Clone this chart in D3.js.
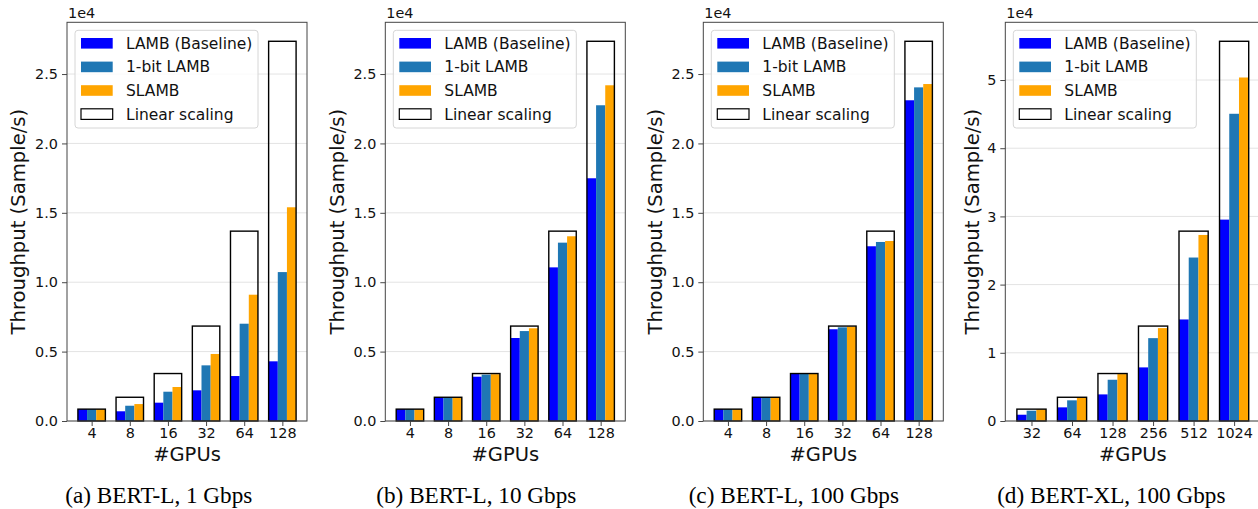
<!DOCTYPE html>
<html>
<head>
<meta charset="utf-8">
<script src="https://cdn.jsdelivr.net/npm/d3@7"></script>
<style>
  body { margin: 0; background: #fff; }
  svg { display: block; font-family: "DejaVu Sans", sans-serif; }
</style>
</head>
<body>
<script>
// chart data (samples/s)
var gpusL  = ["4", "8", "16", "32", "64", "128"];
var gpusXL = ["32", "64", "128", "256", "512", "1024"];

var linearL  = [855, 1710, 3420, 6840, 13680, 27360];
var linearXL = [1740, 3480, 6960, 13920, 27840, 55680];

// (a) BERT-L, 1 Gbps
var lambA   = [855, 700, 1320, 2210, 3240, 4300];
var oneBitA = [855, 1100, 2110, 4010, 7010, 10730];
var slambA  = [855, 1220, 2450, 4830, 9100, 15400];
// (b) BERT-L, 10 Gbps
var lambB   = [855, 1710, 3190, 5980, 11070, 17490];
var oneBitB = [855, 1710, 3340, 6480, 12850, 22750];
var slambB  = [855, 1710, 3370, 6680, 13310, 24190];
// (c) BERT-L, 100 Gbps
var lambC   = [855, 1710, 3400, 6610, 12590, 23110];
var oneBitC = [855, 1710, 3400, 6750, 12900, 24040];
var slambC  = [855, 1710, 3410, 6800, 12970, 24280];
// (d) BERT-XL, 100 Gbps
var lambD   = [920, 2000, 3900, 7860, 14890, 29530];
var oneBitD = [1510, 3030, 6050, 12150, 23970, 45050];
var slambD  = [1710, 3470, 6880, 13620, 27280, 50370];

var seriesNames  = ["LAMB (Baseline)", "1-bit LAMB", "SLAMB"];
var seriesColors = ["#0000ff", "#1f77b4", "#ffa500"];
var linearName   = "Linear scaling";

var captions = ["(a) BERT-L, 1 Gbps", "(b) BERT-L, 10 Gbps", "(c) BERT-L, 100 Gbps", "(d) BERT-XL, 100 Gbps"];

var panels = [
  {cats: gpusL,  linear: linearL,  series: [lambA, oneBitA, slambA], yTicks: [0, 5000, 10000, 15000, 20000, 25000], fmt: 1, left: 67,    width: 240, ylabOff: 48.7},
  {cats: gpusL,  linear: linearL,  series: [lambB, oneBitB, slambB], yTicks: [0, 5000, 10000, 15000, 20000, 25000], fmt: 1, left: 385.3, width: 240, ylabOff: 48.7},
  {cats: gpusL,  linear: linearL,  series: [lambC, oneBitC, slambC], yTicks: [0, 5000, 10000, 15000, 20000, 25000], fmt: 1, left: 703.3, width: 240, ylabOff: 48.5},
  {cats: gpusXL, linear: linearXL, series: [lambD, oneBitD, slambD], yTicks: [0, 10000, 20000, 30000, 40000, 50000], fmt: 0, left: 1005.3, width: 255, ylabOff: 33.3}
];

var W = 1258, H = 509;
var plotTop = 22.3, plotBottom = 421;
var barW = 0.24;

var svg = d3.select("body").append("svg")
    .attr("width", W)
    .attr("height", H);

panels.forEach(function(p, pi) {
  var g = svg.append("g");
  var n = p.cats.length;

  // matplotlib-like x margins around the bar extent
  var lo = -1.5 * barW, hi = (n - 1) + 1.5 * barW;
  var pad = (hi - lo) * 0.05;
  var x = d3.scaleLinear().domain([lo - pad, hi + pad]).range([p.left, p.left + p.width]);
  var y = d3.scaleLinear().domain([0, 1.05 * d3.max(p.linear)]).range([plotBottom, plotTop]);

  // grid
  g.append("g").selectAll("line")
    .data(p.yTicks)
    .enter().append("line")
      .attr("x1", p.left).attr("x2", p.left + p.width)
      .attr("y1", d => y(d)).attr("y2", d => y(d))
      .attr("stroke", "#e3e3e3")
      .attr("stroke-width", 1);

  // coloured bars
  p.series.forEach(function(vals, k) {
    g.append("g").selectAll("rect")
      .data(vals)
      .enter().append("rect")
        .attr("x", (d, i) => x(i + (k - 1) * barW - barW / 2))
        .attr("width", x(barW) - x(0))
        .attr("y", d => y(d))
        .attr("height", d => plotBottom - y(d))
        .attr("fill", seriesColors[k]);
  });

  // linear scaling outline
  g.append("g").selectAll("rect")
    .data(p.linear)
    .enter().append("rect")
      .attr("x", (d, i) => x(i - 1.5 * barW))
      .attr("width", x(3 * barW) - x(0))
      .attr("y", d => y(d))
      .attr("height", d => plotBottom - y(d))
      .attr("fill", "none")
      .attr("stroke", "#000")
      .attr("stroke-width", 1.4);

  // axes
  var yAxis = d3.axisLeft(y)
      .tickValues(p.yTicks)
      .tickSize(5)
      .tickPadding(4)
      .tickFormat(d => p.fmt ? (d / 1e4).toFixed(1) : String(d / 1e4));
  var ya = g.append("g")
      .attr("transform", "translate(" + p.left + ",0)")
      .call(yAxis);

  var xAxis = d3.axisBottom(x)
      .tickValues(d3.range(n))
      .tickSize(5)
      .tickPadding(2)
      .tickFormat(i => p.cats[i]);
  var xa = g.append("g")
      .attr("transform", "translate(0," + plotBottom + ")")
      .call(xAxis);

  [ya, xa].forEach(function(a) {
    a.select(".domain").remove();
    a.selectAll("line").attr("stroke", "#333").attr("stroke-width", 0.9);
    a.selectAll("text")
      .attr("fill", "#111")
      .style("font-size", "14.4px")
      .style("font-family", "DejaVu Sans");
  });

  // frame
  g.append("rect")
    .attr("x", p.left).attr("y", plotTop)
    .attr("width", p.width).attr("height", plotBottom - plotTop)
    .attr("fill", "none")
    .attr("stroke", "#444")
    .attr("stroke-width", 1);

  // offset text
  g.append("text")
    .attr("x", p.left + 1).attr("y", 18)
    .attr("font-size", "14.4px")
    .attr("fill", "#111")
    .text("1e4");

  // axis labels
  g.append("text")
    .attr("x", p.left + p.width / 2).attr("y", 461)
    .attr("text-anchor", "middle")
    .attr("font-size", "19.5px")
    .attr("fill", "#111")
    .text("#GPUs");

  g.append("text")
    .attr("transform", "translate(" + (p.left - p.ylabOff) + "," + ((plotTop + plotBottom) / 2) + ") rotate(-90)")
    .attr("text-anchor", "middle")
    .attr("dy", "0.36em")
    .attr("font-size", "19.6px")
    .attr("fill", "#111")
    .text("Throughput (Sample/s)");

  // legend
  var lg = g.append("g").attr("transform", "translate(" + (p.left + 8) + ",30.3)");
  lg.append("rect")
    .attr("width", 183).attr("height", 97.7)
    .attr("rx", 3)
    .attr("fill", "#fff").attr("fill-opacity", 0.8)
    .attr("stroke", "#d6d6d6").attr("stroke-width", 1);

  var items = seriesNames.map((s, k) => ({name: s, color: seriesColors[k], outline: false}));
  items.push({name: linearName, color: "none", outline: true});

  items.forEach(function(it, j) {
    var cy = 13 + j * 23.6;
    lg.append("rect")
      .attr("x", 6).attr("y", cy - 5.3)
      .attr("width", 31.7).attr("height", 10.6)
      .attr("fill", it.outline ? "none" : it.color)
      .attr("stroke", it.outline ? "#000" : "none")
      .attr("stroke-width", 1.2);
    lg.append("text")
      .attr("x", 51).attr("y", cy)
      .attr("dy", "0.36em")
      .attr("font-size", "15.5px")
      .attr("fill", "#111")
      .text(it.name);
  });

  // caption
  svg.append("text")
    .attr("x", 158.8 + pi * 317.5).attr("y", 503)
    .attr("text-anchor", "middle")
    .attr("font-family", "Liberation Serif, Times New Roman, serif")
    .attr("font-size", "23.2px")
    .attr("fill", "#000")
    .text(captions[pi]);
});
</script>
</body>
</html>
